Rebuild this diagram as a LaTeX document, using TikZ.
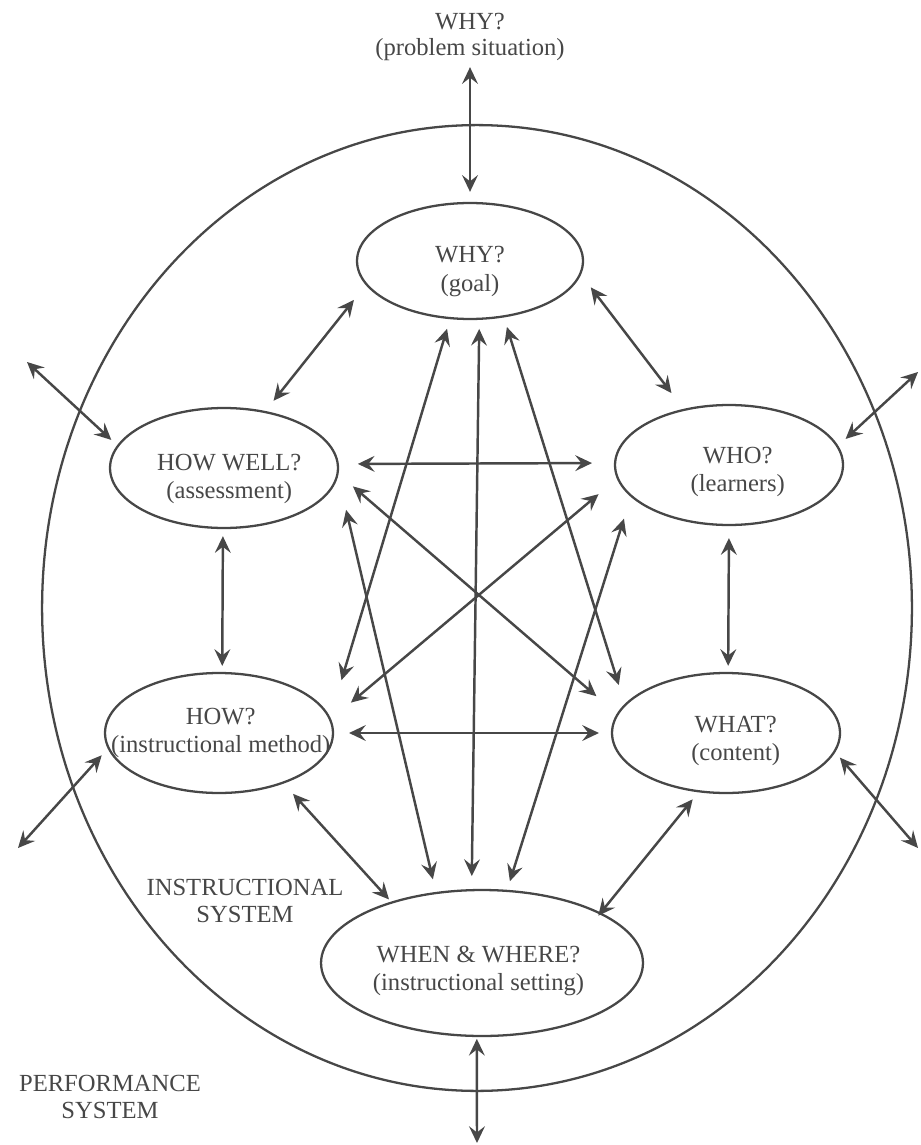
\documentclass[tikz,border=0pt]{standalone}
\usepackage{fontspec}
\setmainfont{Liberation Serif}
\usetikzlibrary{shapes.geometric, arrows.meta}

\colorlet{ink}{black!72}
\tikzset{
  qnode/.style={draw=ink, line width=1.3pt, ellipse, inner sep=0pt,
    minimum width=4.56cm, minimum height=2.4cm},
  qlabel/.style={text=ink, align=center, font=\fontsize{14pt}{16pt}\selectfont},
  tag/.style={qlabel, font=\fontsize{14pt}{15pt}\selectfont},
  link/.style={<->, draw=ink, line width=1.4pt},
}

\begin{document}
\begin{tikzpicture}[x=0.02cm, y=-0.02cm, >={Stealth[length=9.5pt, width=9pt, inset=3.5pt]}]
    \useasboundingbox (0,0) rectangle (920,1145);

    % instructional system
    \node[draw=ink, line width=1.3pt, ellipse, inner sep=0pt,
      minimum width=17.4cm, minimum height=19.32cm] (instsys) at (477,608) {};

    % the six questions
    \node[qnode, minimum width=4.52cm, minimum height=2.32cm,
      label={[qlabel, yshift=-6pt]center:WHY?\\(goal)}] (goal) at (470,261) {};
    \node[qnode, label={[qlabel, xshift=3pt, yshift=-6pt]center:HOW WELL?\\(assessment)}] (assess) at (224,468) {};
    \node[qnode, label={[qlabel, xshift=5pt, yshift=-4pt]center:WHO?\\(learners)}] (learners) at (729,465) {};
    \node[qnode, label={[qlabel, xshift=1pt]center:HOW?\\(instructional method)}] (method) at (219,733) {};
    \node[qnode, label={[qlabel, xshift=5.5pt, yshift=-4.5pt]center:WHAT?\\(content)}] (content) at (726,733) {};
    \node[qnode, minimum width=6.44cm, minimum height=2.92cm,
      label={[qlabel, xshift=-2pt, yshift=-4.5pt]center:WHEN \& WHERE?\\(instructional setting)}] (setting) at (482,963) {};

    % free texts
    \node[tag] (problem) at (470,37) {WHY?\\(problem situation)};
    \node[tag] (instlabel) at (245,901) {INSTRUCTIONAL\\SYSTEM};
    \node[tag] (perflabel) at (110,1097) {PERFORMANCE\\SYSTEM};

    % ends outside the system
    \coordinate (outNW) at (27,362);
    \coordinate (outNE) at (918,372);
    \coordinate (outSW) at (18,848);
    \coordinate (outSE) at (918,848);
    \coordinate (outS) at (477,1143);

    % links to the performance system
    \draw[link, shorten >=5.7pt] (problem.south) -- (goal.north);
    \draw[link, shorten <=1pt] (setting.266) -- (outS);
    \draw[link, shorten <=4.5pt] (assess.168) -- (outNW);
    \draw[link, shorten <=5.7pt] (learners.10) -- (outNE);
    \draw[link, shorten <=5.1pt] (method.188) -- (outSW);
    \draw[link, shorten <=4pt] (content.350) -- (outSE);

    % links from the goal
    \draw[link, shorten <=10.8pt, shorten >=7.4pt] (goal.193) -- (assess.54);
    \draw[link, shorten <=9.1pt, shorten >=11.3pt] (goal.353) -- (learners.129);
    \draw[link, shorten <=5.7pt, shorten >=22.1pt] (goal.251) -- (method.8);
    \draw[link, shorten <=5.7pt, shorten >=11.3pt] (goal.301) -- (content.164);
    \draw[link, shorten <=5.1pt, shorten >=7.4pt] (goal.279) -- (setting.98);

    % side links
    \draw[link, shorten <=4pt, shorten >=3.4pt] (assess.269) -- (method.87);
    \draw[link, shorten <=6.8pt, shorten >=3.4pt] (learners.270) -- (content.88);
    \draw[link, shorten <=10.8pt, shorten >=12.5pt] (assess.2) -- (learners.179);
    \draw[link, shorten <=8.5pt, shorten >=6.8pt] (method.0) -- (content.180);

    % crossing links
    \draw[link, shorten <=10.8pt, shorten >=15.3pt] (assess.357) -- (content.170);
    \draw[link, shorten <=14.7pt, shorten >=13.6pt] (method.7) -- (learners.187);

    % links to the setting
    \draw[link, shorten <=19.8pt, shorten >=7.4pt] (assess.356) -- (setting.123);
    \draw[link, shorten <=13pt, shorten >=5.1pt] (learners.198) -- (setting.71);
    \draw[link, shorten <=7.9pt, shorten >=1.7pt] (method.322) -- (setting.146);
    \draw[link, shorten <=5.1pt, shorten >=-2.3pt] (content.245) -- (setting.23);
\end{tikzpicture}
\end{document}
